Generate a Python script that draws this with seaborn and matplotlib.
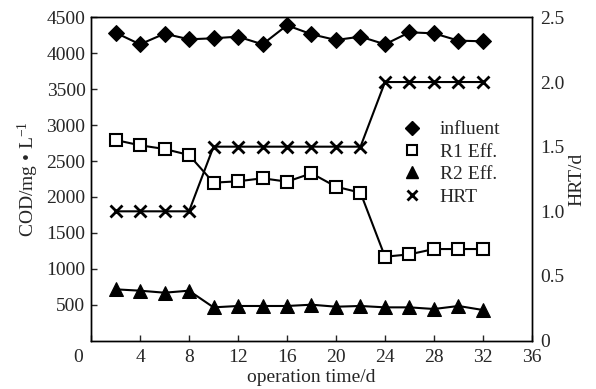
import matplotlib
matplotlib.use("Agg")
import matplotlib.pyplot as plt
import matplotlib.transforms as mtransforms
from matplotlib.lines import Line2D
import seaborn as sns
import pandas as pd

days = [2, 4, 6, 8, 10, 12, 14, 16, 18, 20, 22, 24, 26, 28, 30, 32]
influent = [4287, 4125, 4273, 4195, 4209, 4232, 4125, 4390, 4265, 4185, 4232, 4125, 4292, 4278, 4176, 4167]
r1_eff = [2793, 2719, 2668, 2584, 2199, 2218, 2260, 2213, 2329, 2143, 2059, 1168, 1201, 1275, 1275, 1275]
r2_eff = [714, 695, 667, 695, 463, 482, 482, 482, 500, 472, 482, 463, 463, 440, 482, 426]
hrt = [1.0, 1.0, 1.0, 1.0, 1.5, 1.5, 1.5, 1.5, 1.5, 1.5, 1.5, 2.0, 2.0, 2.0, 2.0, 2.0]

x_ticks = [0, 4, 8, 12, 16, 20, 24, 28, 32, 36]
y_left_ticks = [500, 1000, 1500, 2000, 2500, 3000, 3500, 4000, 4500]
y_right_ticks = [0, 0.5, 1.0, 1.5, 2.0, 2.5]
y_right_labels = ["0", "0.5", "1.0", "1.5", "2.0", "2.5"]

sns.set_style("ticks")
plt.rcParams["font.family"] = ["Liberation Serif", "DejaVu Serif"]
plt.rcParams["mathtext.fontset"] = "custom"
plt.rcParams["mathtext.rm"] = "Liberation Serif"
plt.rcParams["mathtext.it"] = "Liberation Serif:italic"

df = pd.DataFrame({"day": days, "influent": influent, "r1": r1_eff, "r2": r2_eff, "hrt": hrt})

fig = plt.figure(figsize=(5.96, 3.89), dpi=100)
ax = fig.add_axes([0.1527, 0.1244, 0.7399, 0.8309])
ax2 = ax.twinx()

lw = 1.5
sns.lineplot(data=df, x="day", y="influent", ax=ax, color="black", lw=lw,
             marker="D", markersize=8, markeredgecolor="black", markerfacecolor="black")
sns.lineplot(data=df, x="day", y="r1", ax=ax, color="black", lw=lw,
             marker="s", markersize=8, markeredgecolor="black", markerfacecolor="white",
             markeredgewidth=1.5)
sns.lineplot(data=df, x="day", y="r2", ax=ax, color="black", lw=lw,
             marker="^", markersize=10, markeredgecolor="black", markerfacecolor="black")
sns.lineplot(data=df, x="day", y="hrt", ax=ax2, color="black", lw=lw,
             marker="x", markersize=8, markeredgecolor="black", markeredgewidth=2)

ax.set_xlim(0, 36)
ax.set_ylim(0, 4500)
ax2.set_ylim(0, 2.5)
ax.set_xticks(x_ticks)
ax.set_yticks(y_left_ticks)
ax2.set_yticks(y_right_ticks)
ax2.set_yticklabels(y_right_labels)

fs = 14
ax.tick_params(axis="both", direction="in", length=4, width=1, labelsize=fs, pad=6)
ax.tick_params(axis="y", pad=4)
ax2.tick_params(axis="y", length=0, labelsize=fs, pad=6)

lbl0 = ax.get_xticklabels()[0]
lbl0.set_transform(lbl0.get_transform() + mtransforms.ScaledTranslation(-0.13, 0, fig.dpi_scale_trans))

for a in (ax, ax2):
    for s in a.spines.values():
        s.set_visible(True)
        s.set_linewidth(1.0)
        s.set_color("black")

ax.set_xlabel("operation time/d", fontsize=fs, labelpad=2)
ax.set_ylabel(r"COD/mg • L$^{-1}$", fontsize=fs, labelpad=4)
ax2.set_ylabel("HRT/d", fontsize=fs, labelpad=3)

handles = [
    Line2D([], [], ls="none", marker="D", markersize=7, color="black"),
    Line2D([], [], ls="none", marker="s", markersize=7, markerfacecolor="white", markeredgecolor="black", markeredgewidth=1.5),
    Line2D([], [], ls="none", marker="^", markersize=8, color="black"),
    Line2D([], [], ls="none", marker="x", markersize=7, color="black", markeredgewidth=2),
]
ax.legend(handles, ["influent", "R1 Eff.", "R2 Eff.", "HRT"], frameon=False, fontsize=fs,
          loc="upper left", bbox_to_anchor=(391 / 596, 1 - 111 / 389), bbox_transform=fig.transFigure,
          handletextpad=0.8, labelspacing=0.25, handlelength=1.2, borderpad=0)

fig.savefig("out.png", dpi=100)
